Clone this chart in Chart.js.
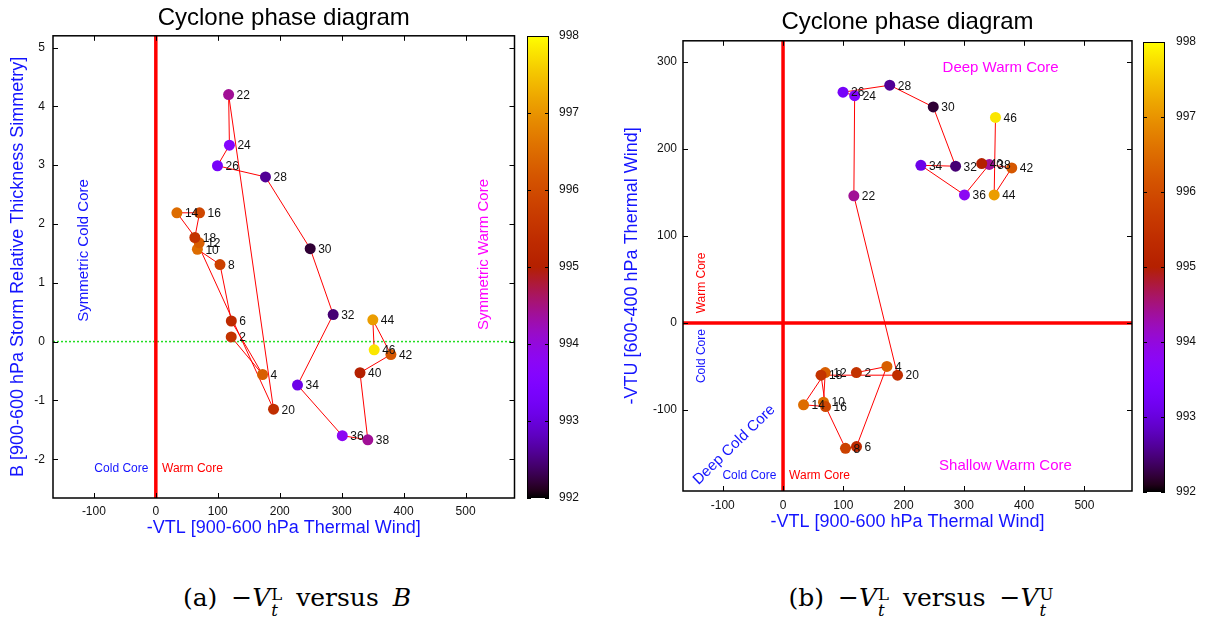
<!DOCTYPE html>
<html>
<head>
<meta charset="utf-8">
<title>Cyclone phase diagram</title>
<script src="https://cdn.jsdelivr.net/npm/chart.js@4.4.0/dist/chart.umd.min.js"></script>
<style>
  body { margin: 0; width: 1205px; height: 623px; background: #fff; position: relative; overflow: hidden; }
  canvas { position: absolute; top: 0; }
  .cap { position: absolute; top: 585px; transform: translateX(-50%); white-space: nowrap; word-spacing: 6px;
         font-family: "DejaVu Serif", "Liberation Serif", serif; font-size: 25px; line-height: 1; color: #000; }
  .ss { display: inline-flex; flex-direction: column; font-size: 0.66em; line-height: 1; vertical-align: 0.38em; margin-left: 1px; }
</style>
</head>
<body>
<canvas id="phaseB" width="520" height="545" style="left:0"></canvas>
<canvas id="cbarB" width="80" height="545" style="left:520px"></canvas>
<canvas id="phaseVTU" width="540" height="545" style="left:600px"></canvas>
<canvas id="cbarVTU" width="65" height="545" style="left:1140px"></canvas>
<div class="cap" style="left:297px">(a) −<i>V</i><span class="ss"><span>L</span><span><i>t</i></span></span> versus <i>B</i></div>
<div class="cap" style="left:921px">(b) −<i>V</i><span class="ss"><span>L</span><span><i>t</i></span></span> versus −<i>V</i><span class="ss"><span>U</span><span><i>t</i></span></span></div>
<script>
// track points every 2 hours
const hours = [2, 4, 6, 8, 10, 12, 14, 16, 18, 20, 22, 24, 26, 28, 30, 32, 34, 36, 38, 40, 42, 44, 46];
// minimum sea level pressure (hPa)
const pressure = [995.5, 996.3, 995.3, 995.8, 996.5, 996.3, 996.5, 995.9, 995.5, 995.4, 994.4, 993.6,
                  993.3, 992.6, 992.2, 992.45, 993.1, 993.8, 994.4, 995.0, 996.2, 997.1, 997.8];
// -VTL, 900-600 hPa thermal wind
const vtlLower = [121.7, 172.3, 121.9, 103.6, 67.1, 70.0, 34.0, 70.6, 63.0, 190.0, 117.5, 118.8,
                  99.5, 177.0, 249.2, 286.3, 228.7, 301.0, 342.2, 329.6, 379.5, 350.3, 352.5];
// B, 900-600 hPa storm relative thickness symmetry
const thicknessB = [0.08, -0.56, 0.35, 1.31, 1.57, 1.68, 2.19, 2.19, 1.77, -1.15, 4.20, 3.34,
                    2.99, 2.80, 1.58, 0.46, -0.74, -1.60, -1.67, -0.53, -0.22, 0.37, -0.14];
// -VTU, 600-400 hPa thermal wind
const vtlUpper = [-57, -50, -142, -144, -91, -57, -94, -96, -60, -60, 146, 261,
                  265, 273, 248, 180, 181, 147, 182, 183, 178, 147, 236];

const vtlTicks = [-100, 0, 100, 200, 300, 400, 500];
const bTicks = [-2, -1, 0, 1, 2, 3, 4, 5];
const vtuTicks = [-100, 0, 100, 200, 300];
const pressureTicks = [992, 993, 994, 995, 996, 997, 998];

const FONT = "'Liberation Sans', Arial, Helvetica, sans-serif";
const BLUE = '#1414ff';
const MAGENTA = '#ff00ff';
const RED = '#ff0000';
Chart.defaults.font.family = FONT;
Chart.defaults.color = '#111';

// gnuplot default pm3d palette (rgbformulae 7,5,15)
function palette(p) {
  const t = Math.min(1, Math.max(0, (p - 992) / 6));
  const r = Math.sqrt(t), g = t * t * t, b = Math.max(0, Math.sin(2 * Math.PI * t));
  return `rgb(${Math.round(r * 255)},${Math.round(g * 255)},${Math.round(b * 255)})`;
}

function fixedTicks(values) {
  return scale => { scale.ticks = values.map(v => ({ value: v })); };
}

// frame, inward mirrored ticks, reference lines, text notes and point labels
function decorPlugin(cfg) {
  return {
    id: 'phaseDecor',
    beforeDatasetsDraw(chart) {
      const { ctx, chartArea: a, scales: { x, y } } = chart;
      ctx.save();
      if (cfg.zeroY) {
        const py = y.getPixelForValue(0);
        ctx.strokeStyle = cfg.zeroY.color;
        ctx.lineWidth = cfg.zeroY.width;
        ctx.setLineDash(cfg.zeroY.dash || []);
        ctx.beginPath(); ctx.moveTo(a.left, py); ctx.lineTo(a.right, py); ctx.stroke();
        ctx.setLineDash([]);
      }
      const px = x.getPixelForValue(0);
      ctx.strokeStyle = RED;
      ctx.lineWidth = 3.5;
      ctx.beginPath(); ctx.moveTo(px, a.top); ctx.lineTo(px, a.bottom); ctx.stroke();
      cfg.notes.forEach(n => {
        ctx.save();
        ctx.translate(x.getPixelForValue(n.x), y.getPixelForValue(n.y));
        ctx.rotate((n.rot || 0) * Math.PI / 180);
        ctx.font = `${n.size}px ${FONT}`;
        ctx.fillStyle = n.color;
        ctx.textAlign = n.align || 'center';
        ctx.textBaseline = 'middle';
        ctx.fillText(n.text, 0, 0);
        ctx.restore();
      });
      ctx.restore();
    },
    afterDatasetsDraw(chart) {
      const { ctx, chartArea: a, scales: { x, y } } = chart;
      ctx.save();
      ctx.font = `12px ${FONT}`;
      ctx.fillStyle = '#111';
      ctx.textAlign = 'left';
      ctx.textBaseline = 'middle';
      chart.getDatasetMeta(0).data.forEach((pt, i) => {
        ctx.fillText(String(hours[i]), pt.x + 8, pt.y + 1);
      });
      ctx.strokeStyle = '#000';
      ctx.lineWidth = 1;
      ctx.beginPath();
      x.ticks.forEach(t => {
        const p = Math.round(x.getPixelForValue(t.value)) + 0.5;
        ctx.moveTo(p, a.bottom); ctx.lineTo(p, a.bottom - 5);
        ctx.moveTo(p, a.top); ctx.lineTo(p, a.top + 5);
      });
      y.ticks.forEach(t => {
        const p = Math.round(y.getPixelForValue(t.value)) + 0.5;
        ctx.moveTo(a.left, p); ctx.lineTo(a.left + 5, p);
        ctx.moveTo(a.right, p); ctx.lineTo(a.right - 5, p);
      });
      ctx.stroke();
      ctx.lineWidth = 1.5;
      ctx.strokeRect(a.left, a.top, a.right - a.left, a.bottom - a.top);
      ctx.restore();
    }
  };
}

function phaseChart(id, yValues, opt) {
  const colors = pressure.map(palette);
  return new Chart(document.getElementById(id), {
    type: 'scatter',
    data: {
      datasets: [{
        data: vtlLower.map((v, i) => ({ x: v, y: yValues[i] })),
        showLine: true,
        borderColor: RED,
        borderWidth: 1,
        pointRadius: 5.5,
        pointHoverRadius: 5.5,
        pointBorderWidth: 0,
        pointBackgroundColor: colors,
        pointBorderColor: colors
      }]
    },
    options: {
      responsive: false,
      animation: false,
      events: [],
      layout: { padding: { left: 0, right: opt.padRight, top: 0, bottom: 0 } },
      plugins: {
        legend: { display: false },
        tooltip: { enabled: false },
        title: {
          display: true,
          fullSize: false,
          text: 'Cyclone phase diagram',
          color: '#000',
          font: { size: 24, weight: 'normal' },
          padding: opt.titlePad
        }
      },
      scales: {
        x: {
          type: 'linear',
          min: -166,
          max: 579,
          afterBuildTicks: fixedTicks(vtlTicks),
          afterFit: s => { s.height = opt.xHeight; },
          grid: { display: false, drawTicks: false },
          border: { display: false },
          ticks: { font: { size: 12 }, color: '#111', padding: opt.xTickPad },
          title: {
            display: true,
            text: '-VTL [900-600 hPa Thermal Wind]',
            color: BLUE,
            font: { size: 18 },
            padding: { top: 0, bottom: opt.xTitlePad }
          }
        },
        y: {
          type: 'linear',
          min: opt.yMin,
          max: opt.yMax,
          afterBuildTicks: fixedTicks(opt.yTicks),
          afterFit: s => { s.width = opt.yWidth; },
          grid: { display: false, drawTicks: false },
          border: { display: false },
          ticks: { font: { size: 12 }, color: '#111', padding: opt.yTickPad },
          title: {
            display: true,
            text: opt.yTitle,
            color: BLUE,
            font: { size: 18 },
            padding: { top: opt.yTitlePad, bottom: 0 }
          }
        }
      }
    },
    plugins: [decorPlugin(opt.decor)]
  });
}

// pressure colour bar drawn as a single floating bar with a palette gradient
function colorBar(id, opt) {
  return new Chart(document.getElementById(id), {
    type: 'bar',
    data: {
      labels: ['MSLP'],
      datasets: [{
        data: [[pressureTicks[0], pressureTicks[pressureTicks.length - 1]]],
        barPercentage: 1,
        categoryPercentage: 1,
        borderWidth: 0,
        backgroundColor(c) {
          const chart = c.chart, ys = chart.scales.y;
          if (!chart.chartArea || !ys) return palette(995);
          const g = chart.ctx.createLinearGradient(0, ys.getPixelForValue(992), 0, ys.getPixelForValue(998));
          for (let i = 0; i <= 60; i++) g.addColorStop(i / 60, palette(992 + 6 * i / 60));
          return g;
        }
      }]
    },
    options: {
      responsive: false,
      animation: false,
      events: [],
      layout: { padding: { left: opt.left, top: opt.top, bottom: opt.bottom, right: 0 } },
      plugins: { legend: { display: false }, tooltip: { enabled: false } },
      scales: {
        x: { display: false },
        y: {
          position: 'right',
          min: 992,
          max: 998,
          afterBuildTicks: fixedTicks(pressureTicks),
          afterFit: s => { s.width = opt.axisWidth; },
          grid: { display: false, drawTicks: false },
          border: { display: false },
          ticks: { font: { size: 12 }, color: '#111', padding: opt.tickPad }
        }
      }
    },
    plugins: [{
      id: 'cbarFrame',
      afterDatasetsDraw(chart) {
        const { ctx, chartArea: a, scales: { y } } = chart;
        ctx.save();
        ctx.strokeStyle = '#000';
        ctx.lineWidth = 1;
        ctx.beginPath();
        y.ticks.forEach(t => {
          const p = Math.round(y.getPixelForValue(t.value)) + 0.5;
          ctx.moveTo(a.left, p); ctx.lineTo(a.left + 4, p);
          ctx.moveTo(a.right, p); ctx.lineTo(a.right - 4, p);
        });
        ctx.stroke();
        ctx.strokeRect(a.left + 0.5, a.top + 0.5, a.right - a.left - 1, a.bottom - a.top - 1);
        ctx.restore();
      }
    }]
  });
}

phaseChart('phaseB', thicknessB, {
  padRight: 4,
  titlePad: { top: 4, bottom: 3 },
  xHeight: 47, xTickPad: 6, xTitlePad: 6,
  yMin: -2.66, yMax: 5.2, yTicks: bTicks,
  yWidth: 53, yTickPad: 8, yTitlePad: 7,
  yTitle: 'B [900-600 hPa Storm Relative Thickness Simmetry]',
  decor: {
    zeroY: { color: '#22dd22', width: 1.5, dash: [2, 2] },
    notes: [
      { text: 'Symmetric Cold Core', x: -116, y: 1.55, rot: -90, size: 15, color: BLUE },
      { text: 'Symmetric Warm Core', x: 529, y: 1.48, rot: -90, size: 15, color: MAGENTA },
      { text: 'Cold Core', x: -12, y: -2.17, align: 'right', size: 12, color: BLUE },
      { text: 'Warm Core', x: 10, y: -2.17, align: 'left', size: 12, color: RED }
    ]
  }
});

phaseChart('phaseVTU', vtlUpper, {
  padRight: 8,
  titlePad: { top: 8, bottom: 4 },
  xHeight: 54, xTickPad: 7, xTitlePad: 12,
  yMin: -193, yMax: 324, yTicks: vtuTicks,
  yWidth: 83, yTickPad: 6, yTitlePad: 21,
  yTitle: '-VTU [600-400 hPa Thermal Wind]',
  decor: {
    zeroY: { color: RED, width: 3.5 },
    notes: [
      { text: 'Deep Warm Core', x: 361, y: 293, size: 15, color: MAGENTA },
      { text: 'Shallow Warm Core', x: 369, y: -164, size: 15, color: MAGENTA },
      { text: 'Deep Cold Core', x: -81, y: -140, rot: -44, size: 15, color: BLUE },
      { text: 'Cold Core', x: -11, y: -175, align: 'right', size: 12, color: BLUE },
      { text: 'Warm Core', x: 10, y: -175, align: 'left', size: 12, color: RED },
      { text: 'Warm Core', x: -135, y: 11, rot: -90, align: 'left', size: 12, color: RED },
      { text: 'Cold Core', x: -135, y: -7, rot: -90, align: 'right', size: 12, color: BLUE }
    ]
  }
});

colorBar('cbarB', { left: 7, top: 36, bottom: 47, axisWidth: 51, tickPad: 10 });
colorBar('cbarVTU', { left: 3, top: 42, bottom: 53, axisWidth: 40, tickPad: 11 });
</script>
</body>
</html>
